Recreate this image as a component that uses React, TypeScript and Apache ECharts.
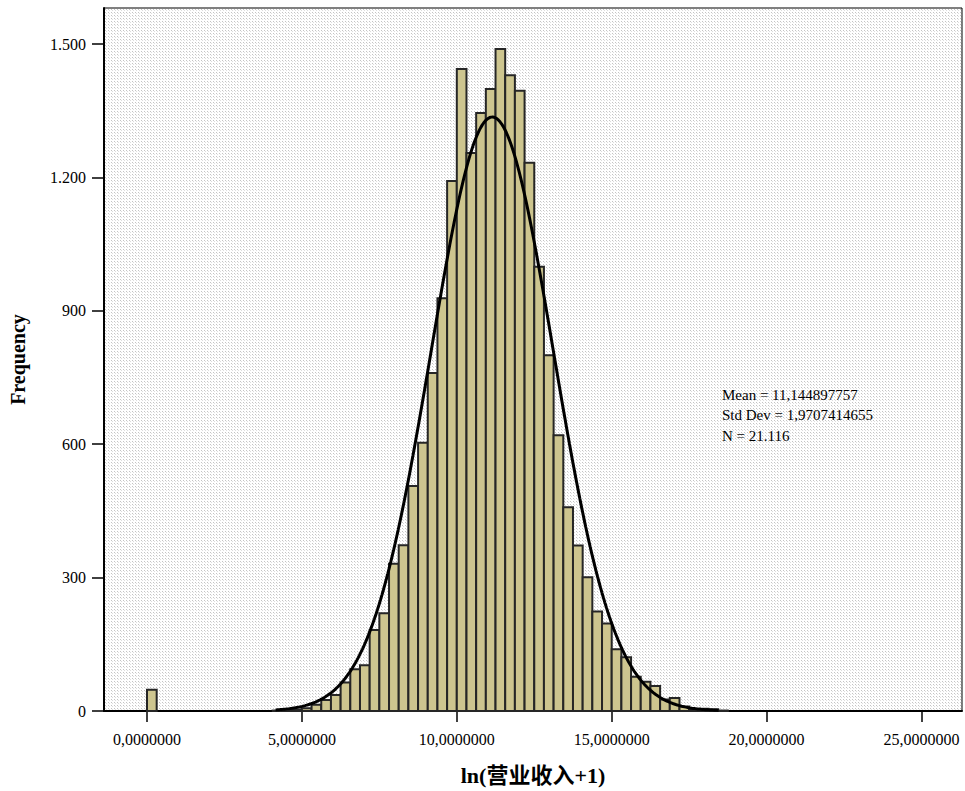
import React, { useEffect, useRef } from "react";
import * as echarts from "echarts";

// ---- data ----
const BIN_WIDTH = 0.3125;
const binStarts = [
  0, 4.0625, 4.375, 4.6875, 5.0, 5.3125, 5.625, 5.9375, 6.25, 6.5625, 6.875, 7.1875, 7.5,
  7.8125, 8.125, 8.4375, 8.75, 9.0625, 9.375, 9.6875, 10.0, 10.3125, 10.625, 10.9375, 11.25,
  11.5625, 11.875, 12.1875, 12.5, 12.8125, 13.125, 13.4375, 13.75, 14.0625, 14.375, 14.6875,
  15.0, 15.3125, 15.625, 15.9375, 16.25, 16.5625, 16.875, 17.1875, 17.5, 17.8125, 18.125, 18.4375,
];
const counts = [
  48, 1, 2, 3, 6, 14, 25, 36, 64, 94, 103, 182, 220,
  331, 373, 506, 603, 760, 928, 1192, 1444, 1255, 1345, 1399, 1489,
  1430, 1395, 1233, 999, 800, 620, 458, 372, 301, 224, 197,
  139, 121, 77, 66, 56, 26, 29, 10, 3, 5, 4, 1,
];
const MEAN = 11.144897757;
const STD_DEV = 1.9707414655;
const N = 21116;
const CURVE_FROM = 4.15;
const CURVE_TO = 18.45;
const xTicks = [0, 5, 10, 15, 20, 25];
const yTicks = [0, 300, 600, 900, 1200, 1500];
const statsLines = ["Mean = 11,144897757", "Std Dev = 1,9707414655", "N = 21.116"];
const xName = "ln(营业收入+1)";
const yName = "Frequency";

const SERIF = "'Liberation Serif', 'Times New Roman', 'Noto Sans CJK SC', serif";

function normalCurve(): number[][] {
  const pts: number[][] = [];
  const steps = 300;
  for (let k = 0; k <= steps; k++) {
    const x = CURVE_FROM + ((CURVE_TO - CURVE_FROM) * k) / steps;
    const z = (x - MEAN) / STD_DEV;
    const y = (N * BIN_WIDTH * Math.exp(-0.5 * z * z)) / (STD_DEV * Math.sqrt(2 * Math.PI));
    pts.push([x, y]);
  }
  return pts;
}

function makeTile(): string | null {
  try {
    const c = document.createElement("canvas");
    c.width = 6;
    c.height = 6;
    const g = c.getContext("2d");
    if (!g) return null;
    g.fillStyle = "#ffffff";
    g.fillRect(0, 0, 6, 6);
    g.fillStyle = "#c4c4c4";
    for (let y = 0; y < 6; y += 3) for (let x = 0; x < 6; x += 3) g.fillRect(x, y, 1, 1);
    g.fillStyle = "#dedede";
    g.fillRect(1, 1, 1, 1);
    g.fillRect(4, 4, 1, 1);
    g.fillRect(4, 1, 1, 1);
    g.fillRect(1, 4, 1, 1);
    return c.toDataURL("image/png");
  } catch (e) {
    return null;
  }
}

export default function App() {
  const ref = useRef<HTMLDivElement>(null);
  useEffect(() => {
    document.body.style.margin = "0";
    if (!ref.current) return;
    const chart = echarts.init(ref.current, undefined, { renderer: "svg" });
    const histData = binStarts.map((b, i) => [b, counts[i]]);
    const tile = makeTile();
    const bg: any = tile ? { image: tile, repeat: "repeat" } : "#eeeeee";
    chart.setOption({
      animation: false,
      backgroundColor: "#ffffff",
      grid: {
        left: 104,
        right: 3,
        top: 8,
        bottom: 80,
        outerBoundsMode: "none",
        containLabel: false,
        show: true,
        backgroundColor: bg,
        borderColor: "#000",
        borderWidth: 1,
      },
      xAxis: {
        type: "value",
        min: -1.388,
        max: 26.307,
        splitLine: { show: false },
        axisLine: { show: true, onZero: false, lineStyle: { color: "#000", width: 2 } },
        axisTick: { show: true, customValues: xTicks, length: 11, lineStyle: { color: "#000", width: 1.5 } },
        axisLabel: {
          customValues: xTicks,
          margin: 20,
          color: "#000",
          fontFamily: SERIF,
          fontSize: 16,
          formatter: (v: number) => v.toFixed(7).replace(".", ","),
        },
        name: xName,
        nameLocation: "middle",
        nameGap: 53,
        nameTextStyle: { color: "#000", fontFamily: SERIF, fontSize: 22, fontWeight: "bold" },
      },
      yAxis: {
        type: "value",
        min: 0,
        max: 1581,
        splitLine: { show: false },
        axisLine: { show: true, onZero: false, lineStyle: { color: "#000", width: 2 } },
        axisTick: { show: true, customValues: yTicks, length: 12, lineStyle: { color: "#000", width: 1.5 } },
        axisLabel: {
          customValues: yTicks,
          margin: 18,
          color: "#000",
          fontFamily: SERIF,
          fontSize: 16,
          formatter: (v: number) => (v >= 1000 ? `${Math.floor(v / 1000)}.${String(v % 1000).padStart(3, "0")}` : String(v)),
        },
        name: yName,
        nameLocation: "middle",
        nameGap: 76,
        nameRotate: 90,
        nameTextStyle: { color: "#000", fontFamily: SERIF, fontSize: 20, fontWeight: "bold" },
      },
      series: [
        {
          type: "custom",
          data: histData,
          encode: { x: 0, y: 1 },
          renderItem: (params: any, api: any) => {
            const x0 = api.value(0);
            const c = api.value(1);
            const pTop = api.coord([x0, c]);
            const pBot = api.coord([x0 + BIN_WIDTH, 0]);
            return {
              type: "rect",
              shape: { x: pTop[0], y: pTop[1], width: pBot[0] - pTop[0], height: pBot[1] - pTop[1] },
              style: { fill: "#cdc58f", stroke: "#262626", lineWidth: 2 },
            };
          },
          z: 2,
        },
        {
          type: "line",
          data: normalCurve(),
          showSymbol: false,
          symbol: "none",
          lineStyle: { color: "#000", width: 3 },
          z: 3,
        },
      ],
      graphic: statsLines.map((t, i) => ({
        type: "text",
        left: 722,
        top: 387 + i * 20.5,
        z: 10,
        style: { text: t, fill: "#000", font: `15px ${SERIF}` },
      })),
    });
    return () => chart.dispose();
  }, []);
  return <div ref={ref} style={{ width: 965, height: 791 }} />;
}
